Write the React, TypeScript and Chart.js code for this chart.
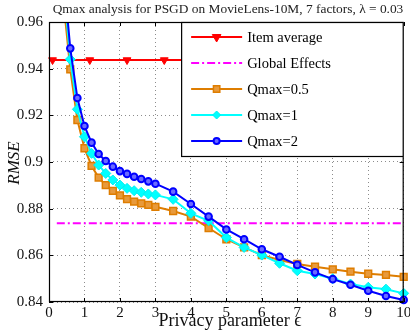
import React, { useEffect, useRef } from "react";
import { Chart, registerables } from "chart.js";

Chart.register(...registerables);

const TITLE = "Qmax analysis for PSGD on MovieLens-10M, 7 factors, λ = 0.03";
const X_LABEL = "Privacy parameter ϵ";
const Y_LABEL = "RMSE";

const X_TICKS = [0, 1, 2, 3, 4, 5, 6, 7, 8, 9, 10];
const Y_TICKS = [0.84, 0.86, 0.88, 0.9, 0.92, 0.94, 0.96];

const EPSILON = [0.4, 0.6, 0.8, 1.0, 1.2, 1.4, 1.6, 1.8, 2.0, 2.2, 2.4, 2.6, 2.8, 3.0, 3.5, 4.0, 4.5, 5.0, 5.5, 6.0, 6.5, 7.0, 7.5, 8.0, 8.5, 9.0, 9.5, 10];
const QMAX_05 = [0.970, 0.9397, 0.918, 0.9059, 0.8983, 0.8933, 0.8901, 0.8876, 0.8857, 0.8841, 0.8830, 0.8823, 0.8816, 0.8808, 0.8790, 0.8766, 0.8717, 0.8669, 0.8634, 0.8601, 0.8580, 0.8563, 0.8551, 0.8540, 0.8530, 0.8521, 0.8516, 0.8508];
const QMAX_1 = [0.977, 0.944, 0.9226, 0.9108, 0.9037, 0.8987, 0.8951, 0.8923, 0.8901, 0.8887, 0.8877, 0.8870, 0.8863, 0.8859, 0.8840, 0.8780, 0.8748, 0.8676, 0.8634, 0.8601, 0.8566, 0.8534, 0.8520, 0.8500, 0.8477, 0.8463, 0.8455, 0.8437];
const QMAX_2 = [0.982, 0.9487, 0.9274, 0.9154, 0.9083, 0.9034, 0.9004, 0.8980, 0.8961, 0.8949, 0.8937, 0.8927, 0.8917, 0.8907, 0.8873, 0.8820, 0.8766, 0.8711, 0.8669, 0.8626, 0.8594, 0.8559, 0.8527, 0.8498, 0.8474, 0.8448, 0.8426, 0.8409];

const ITEM_AVG_X = [0, 0.1, 1.15, 2.2, 3.25, 4.3, 5.35, 6.4, 7.45, 8.5, 9.55, 10];
const ITEM_AVG_RMSE = 0.9437;
const GLOBAL_X = [0.22, 10];
const GLOBAL_RMSE = 0.8737;

const LEGEND_LABELS = ["Item average", "Global Effects", "Qmax=0.5", "Qmax=1", "Qmax=2"];

const SERIF = "'Liberation Serif', 'DejaVu Serif', serif";
const ORANGE = "#de7d00";

Chart.defaults.font.family = SERIF;

function drawMarker(ctx: CanvasRenderingContext2D, style: string, x: number, y: number, r: number, fill: string, stroke: string, bw: number, rotation = 0) {
  ctx.save();
  ctx.beginPath();
  if (style === "circle") {
    ctx.arc(x, y, r, 0, Math.PI * 2);
  } else if (style === "rect") {
    const s = r * Math.SQRT1_2;
    ctx.rect(x - s, y - s, 2 * s, 2 * s);
  } else if (style === "rectRot") {
    ctx.moveTo(x, y - r);
    ctx.lineTo(x + r, y);
    ctx.lineTo(x, y + r);
    ctx.lineTo(x - r, y);
    ctx.closePath();
  } else if (style === "triangle") {
    const dir = rotation === 180 ? -1 : 1;
    ctx.moveTo(x, y - dir * r);
    ctx.lineTo(x - r * 0.866, y + dir * r * 0.5);
    ctx.lineTo(x + r * 0.866, y + dir * r * 0.5);
    ctx.closePath();
  }
  ctx.fillStyle = fill;
  ctx.fill();
  if (bw > 0) {
    ctx.lineWidth = bw;
    ctx.strokeStyle = stroke;
    ctx.stroke();
  }
  ctx.restore();
}

const decorPlugin = {
  id: "decor",
  afterDraw(chart: any) {
    const ctx: CanvasRenderingContext2D = chart.ctx;
    const { left, right, top, bottom } = chart.chartArea;
    const xs = chart.scales.x;
    const ys = chart.scales.y;
    ctx.save();

    // frame
    ctx.strokeStyle = "#000";
    ctx.lineWidth = 1.2;
    ctx.strokeRect(left + 0.5, top + 0.5, right - left - 1, bottom - top - 1);

    // inward ticks
    ctx.lineWidth = 1;
    ctx.beginPath();
    X_TICKS.forEach((t) => {
      const px = Math.round(xs.getPixelForValue(t)) + 0.5;
      ctx.moveTo(px, bottom);
      ctx.lineTo(px, bottom - 4);
      ctx.moveTo(px, top);
      ctx.lineTo(px, top + 4);
    });
    Y_TICKS.forEach((t) => {
      const py = Math.round(ys.getPixelForValue(t)) + 0.5;
      ctx.moveTo(left, py);
      ctx.lineTo(left + 4, py);
      ctx.moveTo(right, py);
      ctx.lineTo(right - 4, py);
    });
    ctx.stroke();

    // legend
    const lx = xs.getPixelForValue(3.725);
    const lw = right - lx;
    const lh = 135;
    ctx.fillStyle = "#fff";
    ctx.fillRect(lx, top, lw, lh);
    ctx.strokeStyle = "#000";
    ctx.lineWidth = 1.2;
    ctx.strokeRect(lx + 0.5, top + 0.5, lw - 1, lh - 1);

    const order = [4, 3, 2, 1, 0];
    order.forEach((dsIndex, i) => {
      const ds = chart.data.datasets[dsIndex];
      const y = top + 15 + i * 26;
      const x0 = lx + 10;
      const x1 = lx + 61;
      ctx.save();
      ctx.strokeStyle = ds.borderColor;
      ctx.lineWidth = ds.borderWidth;
      ctx.setLineDash(ds.borderDash || []);
      ctx.beginPath();
      ctx.moveTo(x0, y);
      ctx.lineTo(x1, y);
      ctx.stroke();
      ctx.restore();
      if (ds.legendMarker) {
        drawMarker(ctx, ds.pointStyle, (x0 + x1) / 2, y, ds.legendMarker, ds.pointBackgroundColor, ds.pointBorderColor, ds.pointBorderWidth, ds.pointRotation || 0);
      }
      ctx.fillStyle = "#000";
      ctx.font = `14.5px ${SERIF}`;
      ctx.textAlign = "left";
      ctx.textBaseline = "middle";
      ctx.fillText(LEGEND_LABELS[i], lx + 66, y + 1);
    });

    // title
    ctx.fillStyle = "#222";
    ctx.font = `13.4px ${SERIF}`;
    ctx.textAlign = "center";
    ctx.textBaseline = "middle";
    ctx.fillText(TITLE, 228, 9);

    // x label
    ctx.fillStyle = "#111";
    ctx.font = `18px ${SERIF}`;
    ctx.fillText(X_LABEL, 230, 321);

    // y label
    ctx.save();
    ctx.translate(15, 163);
    ctx.rotate(-Math.PI / 2);
    ctx.font = `italic 17px ${SERIF}`;
    ctx.fillText(Y_LABEL, 0, 0);
    ctx.restore();

    ctx.restore();
  },
};

export default function App() {
  const ref = useRef<HTMLCanvasElement | null>(null);
  useEffect(() => {
    if (!ref.current) return;
    const pts = (xs: number[], ys: number[]) => xs.map((x, i) => ({ x, y: ys[i] }));
    const clip = { left: 6, top: 0, right: 6, bottom: 6 };
    const chart = new Chart(ref.current, {
      type: "line",
      data: {
        datasets: [
          {
            label: LEGEND_LABELS[4],
            data: pts(EPSILON, QMAX_2),
            borderColor: "#0000ff",
            borderWidth: 2,
            pointStyle: "circle",
            pointRadius: 3.3,
            pointBorderWidth: 2,
            pointBorderColor: "#0000ff",
            pointBackgroundColor: "#6a6aff",
            legendMarker: 3,
            order: 1,
            clip,
          } as any,
          {
            label: LEGEND_LABELS[3],
            data: pts(EPSILON, QMAX_1),
            borderColor: "#00ffff",
            borderWidth: 2,
            pointStyle: "rectRot",
            pointRadius: 5,
            pointBorderWidth: 1,
            pointBorderColor: "#00eeee",
            pointBackgroundColor: "#00ffff",
            legendMarker: 4,
            order: 2,
            clip,
          } as any,
          {
            label: LEGEND_LABELS[2],
            data: pts(EPSILON, QMAX_05),
            borderColor: ORANGE,
            borderWidth: 2,
            pointStyle: "rect",
            pointRadius: 4.8,
            pointBorderWidth: 1.5,
            pointBorderColor: ORANGE,
            pointBackgroundColor: "#e89a3c",
            legendMarker: 4.5,
            order: 3,
            clip,
          } as any,
          {
            label: LEGEND_LABELS[1],
            data: pts(GLOBAL_X, GLOBAL_X.map(() => GLOBAL_RMSE)),
            borderColor: "#ff00ff",
            borderWidth: 2,
            borderDash: [8, 3, 2, 3],
            pointRadius: 0,
            order: 4,
            clip,
          } as any,
          {
            label: LEGEND_LABELS[0],
            data: pts(ITEM_AVG_X, ITEM_AVG_X.map(() => ITEM_AVG_RMSE)),
            borderColor: "#ff0000",
            borderWidth: 2,
            pointStyle: "triangle",
            pointRotation: 180,
            pointRadius: ITEM_AVG_X.map((_, i) => (i === 0 || i === ITEM_AVG_X.length - 1 ? 0 : 4.5)),
            pointBorderWidth: 1,
            pointBorderColor: "#ff0000",
            pointBackgroundColor: "#ff0000",
            legendMarker: 5,
            order: 5,
            clip,
          } as any,
        ],
      },
      options: {
        animation: false,
        responsive: false,
        events: [],
        layout: { padding: { top: 22, right: 4, left: 0, bottom: 0 } },
        plugins: { legend: { display: false }, title: { display: false }, tooltip: { enabled: false } },
        elements: { line: { tension: 0 } },
        scales: {
          x: {
            type: "linear",
            min: 0,
            max: 10,
            afterBuildTicks: (s: any) => {
              s.ticks = X_TICKS.map((v) => ({ value: v }));
            },
            afterFit: (s: any) => {
              s.height = 28;
              s.paddingLeft = 0;
              s.paddingRight = 0;
            },
            grid: { color: "rgba(0,0,0,0.45)", lineWidth: 1, drawTicks: false },
            border: { display: false, dash: [1, 3] },
            ticks: { color: "#111", padding: 2, maxRotation: 0, font: { family: SERIF, size: 15 }, callback: (v: any) => String(v) },
          },
          y: {
            type: "linear",
            min: 0.84,
            max: 0.96,
            afterBuildTicks: (s: any) => {
              s.ticks = Y_TICKS.map((v) => ({ value: v }));
            },
            afterFit: (s: any) => {
              s.width = 49;
              s.paddingTop = 0;
              s.paddingBottom = 0;
            },
            grid: { color: "rgba(0,0,0,0.45)", lineWidth: 1, drawTicks: false },
            border: { display: false, dash: [1, 3] },
            ticks: { color: "#111", padding: 6, font: { family: SERIF, size: 15 }, callback: (v: any) => String(Number(Number(v).toFixed(2))) },
          },
        },
      } as any,
      plugins: [decorPlugin],
    });
    return () => chart.destroy();
  }, []);
  return (
    <div style={{ position: "absolute", left: 0, top: 0, width: 410, height: 330 }}>
      <canvas ref={ref} width={410} height={330} style={{ display: "block" }} />
    </div>
  );
}
